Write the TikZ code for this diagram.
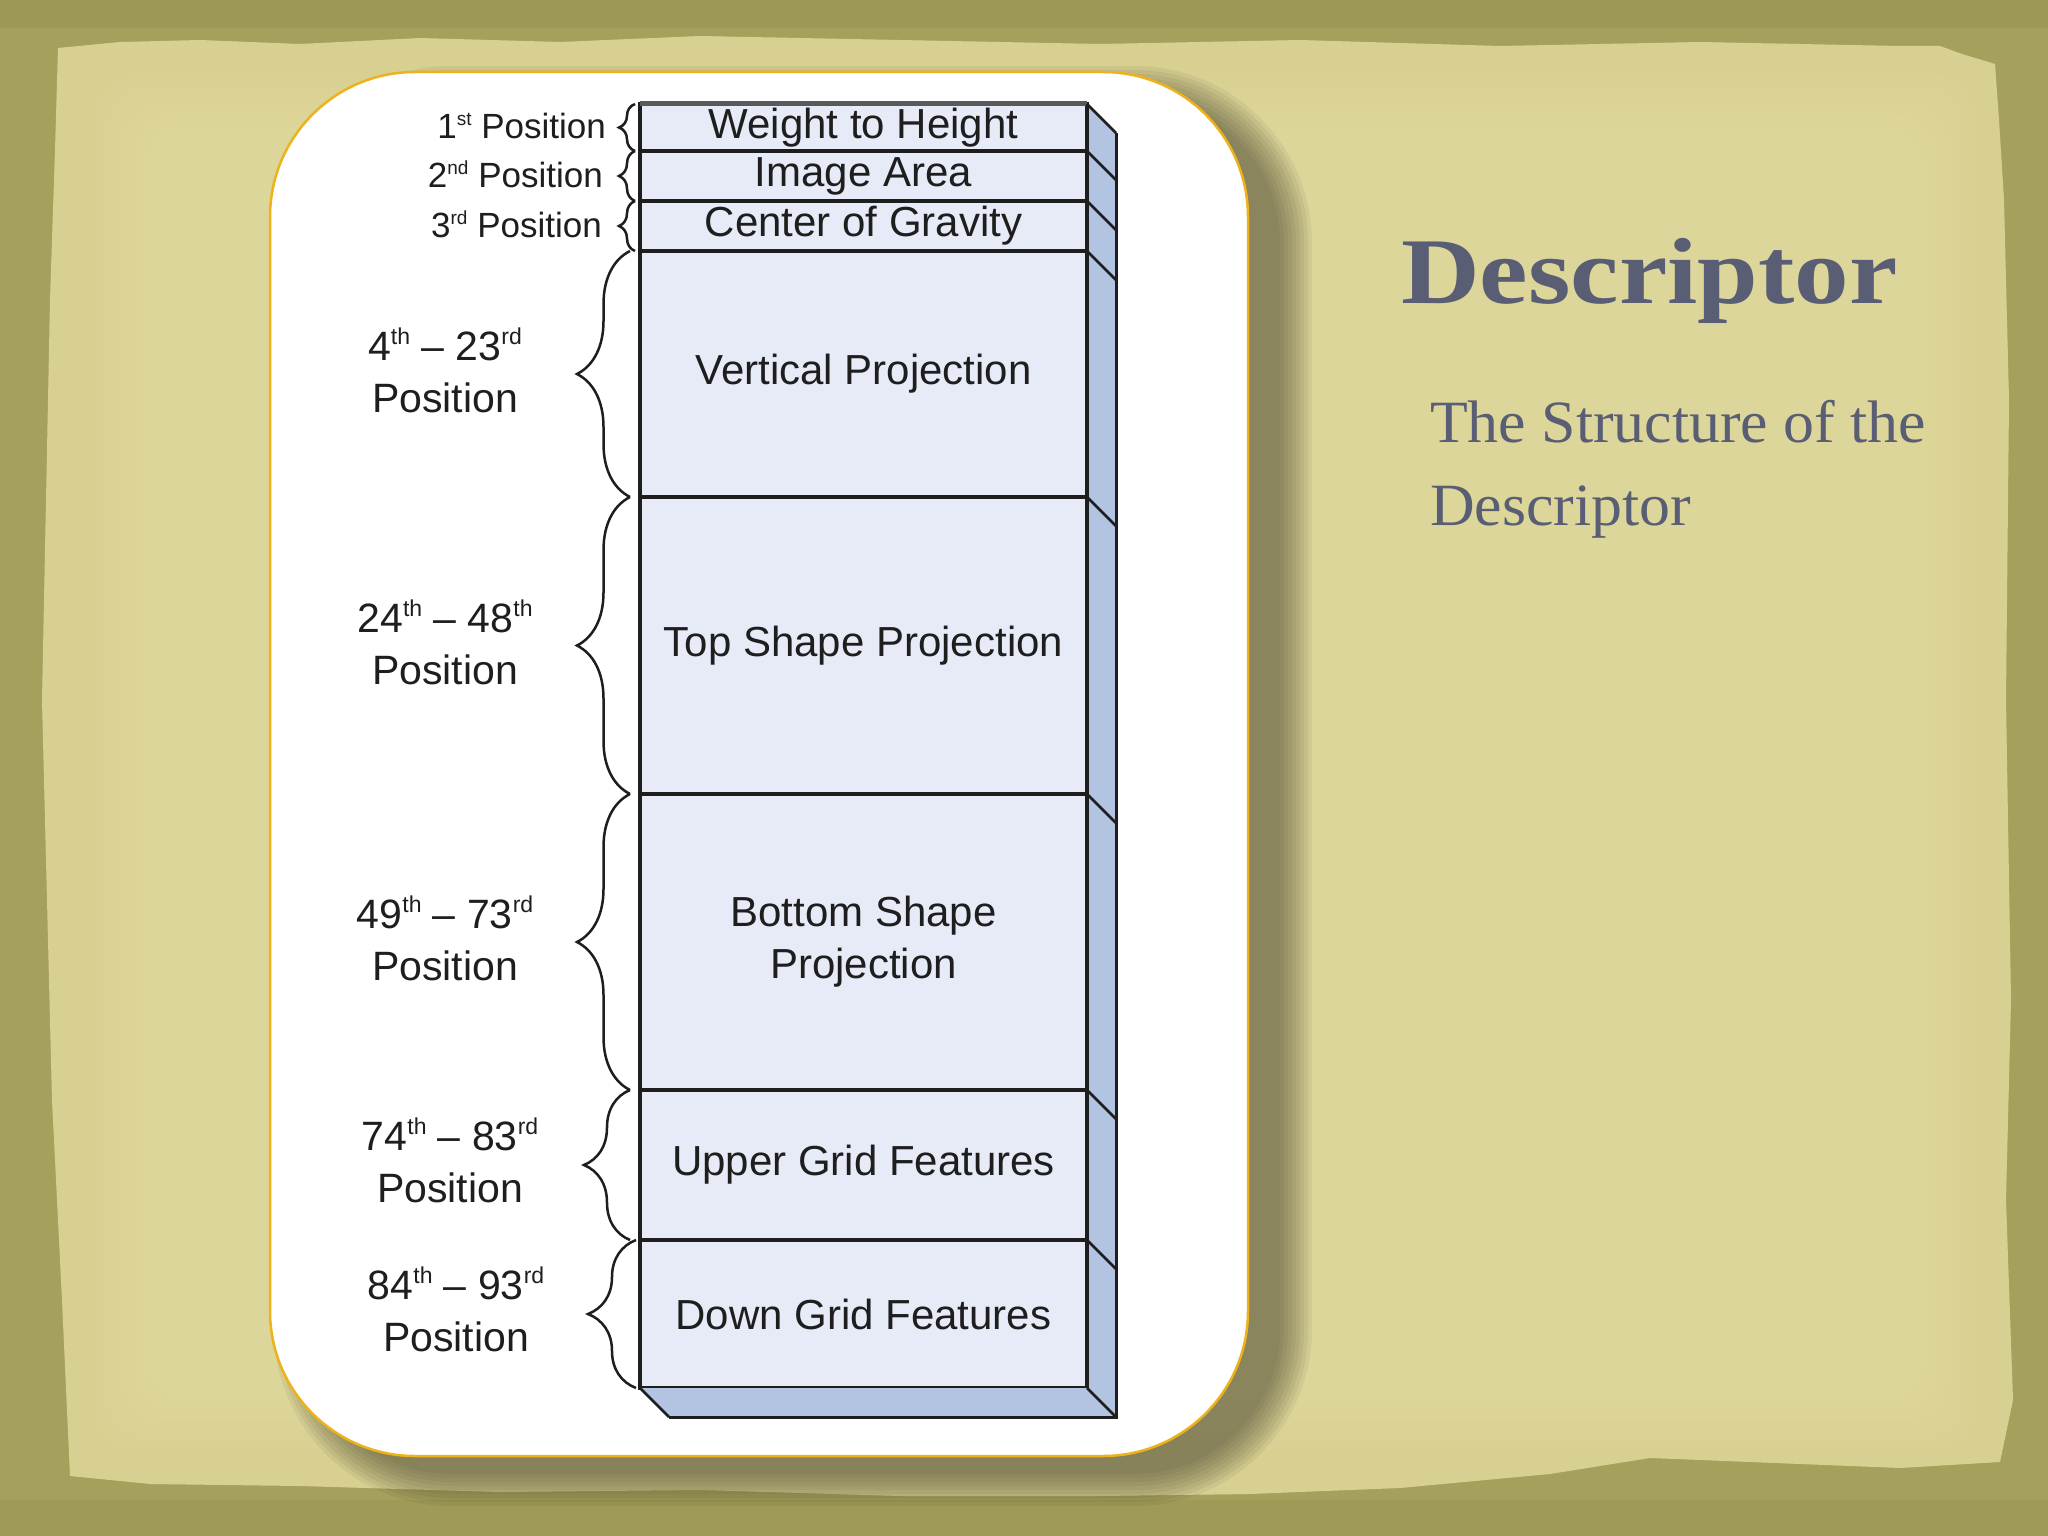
\documentclass[tikz,border=0pt]{standalone}
\usepackage{fontspec}
\setmainfont{Liberation Sans}
\newfontfamily\titlefont[FakeStretch=1.16]{Liberation Serif}
\newfontfamily\subfont[FakeStretch=1.03]{Liberation Serif}
\usetikzlibrary{decorations.pathreplacing,calc}
\definecolor{olivebg}{HTML}{A5A05B}
\definecolor{olivedark}{HTML}{969250}
\definecolor{paperc}{HTML}{D8D091}
\definecolor{paperlight}{HTML}{E2DBA0}
\definecolor{cardedge}{HTML}{EDB21C}
\definecolor{frontc}{HTML}{E7EBF7}
\definecolor{sidec}{HTML}{B2C4E2}
\definecolor{titlec}{HTML}{595E74}
\definecolor{inkc}{HTML}{1E1E1E}
\definecolor{shadowc}{HTML}{3E3B28}
\newcommand\supS[1]{\smash{\raisebox{13pt}{\fontsize{19}{19}\selectfont #1}}}
\newcommand\supB[1]{\smash{\raisebox{16pt}{\fontsize{23}{23}\selectfont #1}}}
\tikzset{
  rowbox/.style={draw=inkc, line width=3.5pt, fill=frontc, minimum width=447pt,
    inner sep=0pt, outer sep=0pt, font=\fontsize{42}{52}\selectfont, text=inkc, align=center},
  smalllab/.style={anchor=east, inner sep=0pt, font=\fontsize{35}{42}\selectfont, text=inkc},
  biglab/.style={inner sep=0pt, font=\fontsize{41}{52}\selectfont, text=inkc, align=center},
  bracex/.style={decorate, decoration={brace, amplitude=#1}, draw=inkc, line width=2.5pt},
  edgeline/.style={draw=inkc, line width=3pt},
  card/.style={draw=cardedge, line width=2.5pt, fill=white, rounded corners=145pt,
    minimum width=978pt, minimum height=1384pt, inner sep=0pt, outer sep=0pt}
}
\begin{document}
\begin{tikzpicture}[x=1pt,y=-1pt]
\useasboundingbox (0,0) rectangle (2048,1536);
% background
\fill[olivebg] (0,0) rectangle (2048,1536);
\fill[olivedark, opacity=.5] (0,0) rectangle (2048,28);
\fill[olivedark, opacity=.4] (0,1500) rectangle (2048,1536);
% paper
\fill[paperc] (58,48) -- (120,42) -- (200,40) -- (300,44) -- (420,38) -- (560,42) -- (700,36)
  -- (900,40) -- (1100,44) -- (1300,40) -- (1500,46) -- (1700,42) -- (1900,46) -- (1940,46)
  -- (1962,54) -- (1995,64) -- (1999,120) -- (2004,200) -- (2009,400) -- (2006,700)
  -- (2011,1000) -- (2006,1200) -- (2013,1400) -- (2000,1462) -- (1900,1468) -- (1750,1462)
  -- (1650,1458) -- (1550,1474) -- (1400,1488) -- (1250,1494) -- (1100,1496) -- (900,1496)
  -- (700,1490) -- (500,1492) -- (300,1486) -- (150,1484) -- (70,1476) -- (62,1300)
  -- (52,1100) -- (47,900) -- (42,700) -- (46,500) -- (50,300) -- (55,150) -- cycle;
\foreach \e in {0,10,...,60} {
  \fill[paperlight, opacity=.18, rounded corners=40pt] (95+\e,75+\e) rectangle (1975-\e,1450-\e);
}
% card shadow
\foreach \e in {0,4,...,32} {
  \pgfmathsetmacro\rr{145+\e}
  \fill[shadowc, opacity=.075, rounded corners=\rr pt] (306-\e,98-\e) rectangle (1280+\e,1474+\e);
}
% card
\node[card] (card) at (759,764) {};
% 3D column: rows
\node[rowbox, minimum height=47pt] (r1) at (863.5,127.5) {Weight to Height};
\node[rowbox, minimum height=50pt] (r2) at (863.5,176) {Image Area};
\node[rowbox, minimum height=50pt] (r3) at (863.5,226) {Center of Gravity};
\node[rowbox, minimum height=246pt] (r4) at (863.5,374) {Vertical Projection};
\node[rowbox, minimum height=297pt] (r5) at (863.5,645.5) {Top Shape Projection};
\node[rowbox, minimum height=296pt] (r6) at (863.5,942) {Bottom Shape\\Projection};
\node[rowbox, minimum height=150pt] (r7) at (863.5,1165) {Upper Grid Features};
\node[rowbox, minimum height=148pt] (r8) at (863.5,1314) {Down Grid Features};
% side and bottom faces
\fill[sidec] (r1.north east) -- ++(29,29) -- ($(r8.south east)+(29,29)$) -- (r8.south east) -- cycle;
\fill[sidec] (r8.south west) -- (r8.south east) -- ++(29,29) -- ($(r8.south west)+(29,29)$) -- cycle;
\draw[edgeline] ($(r1.north east)+(29,29)$) -- ($(r8.south east)+(29,29)$) -- ($(r8.south west)+(29,29)$);
\foreach \n/\a in {r1/north east, r2/north east, r3/north east, r4/north east, r5/north east,
  r6/north east, r7/north east, r8/north east, r8/south east, r8/south west} {
  \draw[edgeline, line width=2.5pt] (\n.\a) -- ++(29,29);
}
\draw[line width=5pt, draw=black!65] (r1.north west) -- (r1.north east);
\draw[edgeline] (r1.north east) -- (r8.south east);
% braces
\draw[bracex=16] ([xshift=-5pt]r1.south west) -- ([xshift=-5pt]r1.north west);
\draw[bracex=16] ([xshift=-5pt]r2.south west) -- ([xshift=-5pt]r2.north west);
\draw[bracex=16] ([xshift=-5pt]r3.south west) -- ([xshift=-5pt]r3.north west);
\draw[bracex=53] ([xshift=-10pt]r4.south west) -- ([xshift=-10pt]r4.north west);
\draw[bracex=53] ([xshift=-10pt]r5.south west) -- ([xshift=-10pt]r5.north west);
\draw[bracex=53] ([xshift=-10pt]r6.south west) -- ([xshift=-10pt]r6.north west);
\draw[bracex=46] ([xshift=-10pt]r7.south west) -- ([xshift=-10pt]r7.north west);
\draw[bracex=48] ([xshift=-4pt]r8.south west) -- ([xshift=-4pt]r8.north west);
% position labels
\node[smalllab] (p1) at (606,126) {1\supS{st} Position};
\node[smalllab] (p2) at (603,175) {2\supS{nd} Position};
\node[smalllab] (p3) at (602,225) {3\supS{rd} Position};
\node[biglab] (p4) at (445,372) {4\supB{th} -- 23\supB{rd}\\Position};
\node[biglab] (p5) at (445,644) {24\supB{th} -- 48\supB{th}\\Position};
\node[biglab] (p6) at (445,940) {49\supB{th} -- 73\supB{rd}\\Position};
\node[biglab] (p7) at (450,1162) {74\supB{th} -- 83\supB{rd}\\Position};
\node[biglab] (p8) at (456,1311) {84\supB{th} -- 93\supB{rd}\\Position};
% title text
\node[anchor=base west, inner sep=0pt, text=titlec, font=\titlefont\bfseries\fontsize{94}{100}\selectfont] (title) at (1401,303) {Descriptor};
\node[anchor=base west, inner sep=0pt, text=titlec, font=\subfont\fontsize{60}{83}\selectfont] (sub1) at (1430,442) {The Structure of the};
\node[anchor=base west, inner sep=0pt, text=titlec, font=\subfont\fontsize{60}{83}\selectfont] (sub2) at (1430,525) {Descriptor};
\end{tikzpicture}
\end{document}
